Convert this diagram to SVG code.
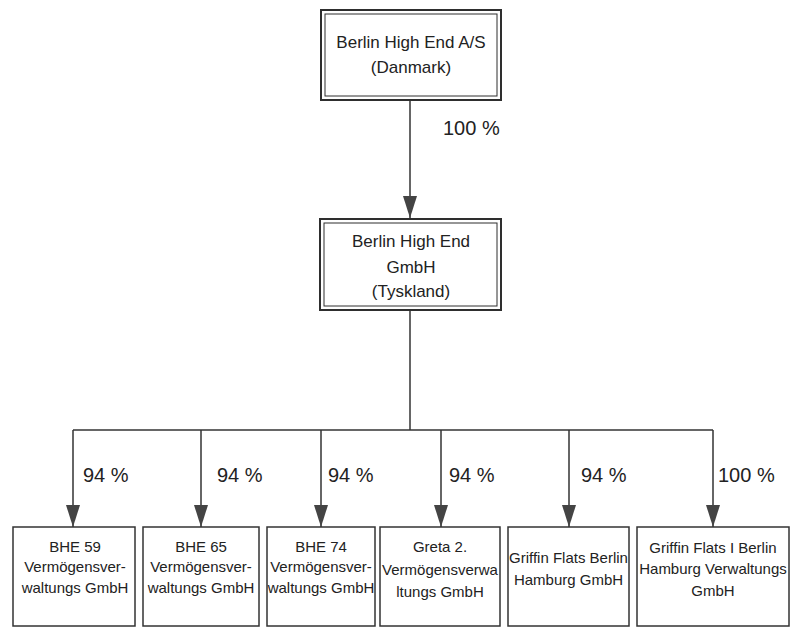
<svg xmlns="http://www.w3.org/2000/svg" width="792" height="628" viewBox="0 0 792 628">
<style>
  .bg { fill: #ffffff; }
  .outer { fill: #ffffff; stroke: #2e2e2e; stroke-width: 2; }
  .inner { fill: none; stroke: #2e2e2e; stroke-width: 1; }
  .box { fill: #ffffff; stroke: #333333; stroke-width: 1.5; }
  .conn { fill: none; stroke: #333333; stroke-width: 1.5; }
  .t { font-family: "Liberation Sans", Arial, sans-serif; fill: #222222; text-anchor: middle; }
  .big { font-size: 17px; }
  .small { font-size: 15px; }
  .pct { font-family: "Liberation Sans", Arial, sans-serif; fill: #222222; font-size: 20px; }
</style>
<defs>
  <marker id="arrow" viewBox="0 0 22 14" refX="22" refY="7" markerWidth="22" markerHeight="14" markerUnits="userSpaceOnUse" orient="auto">
    <path d="M0,0 L22,7 L0,14 z" fill="#444444"/>
  </marker>
</defs>
<rect class="bg" x="0" y="0" width="792" height="628"/>

<g id="connectors">
  <line class="conn" x1="410" y1="100" x2="410" y2="218" marker-end="url(#arrow)"/>
  <line class="conn" x1="410" y1="310" x2="410" y2="430"/>
  <line class="conn" x1="73" y1="430" x2="713" y2="430"/>
  <line class="conn" x1="73" y1="430" x2="73" y2="527" marker-end="url(#arrow)"/>
  <line class="conn" x1="201" y1="430" x2="201" y2="527" marker-end="url(#arrow)"/>
  <line class="conn" x1="321" y1="430" x2="321" y2="527" marker-end="url(#arrow)"/>
  <line class="conn" x1="441" y1="430" x2="441" y2="527" marker-end="url(#arrow)"/>
  <line class="conn" x1="569" y1="430" x2="569" y2="527" marker-end="url(#arrow)"/>
  <line class="conn" x1="713" y1="430" x2="713" y2="527" marker-end="url(#arrow)"/>
  <text class="pct" x="443" y="135">100 %</text>
  <text class="pct" x="83" y="482">94 %</text>
  <text class="pct" x="217" y="482">94 %</text>
  <text class="pct" x="328" y="482">94 %</text>
  <text class="pct" x="449" y="482">94 %</text>
  <text class="pct" x="581" y="482">94 %</text>
  <text class="pct" x="718" y="482">100 %</text>
</g>

<g id="node-top">
  <rect class="outer" x="321" y="10" width="180" height="90"/>
  <rect class="inner" x="325" y="14" width="172" height="82"/>
  <text class="t big" x="411" y="48">Berlin High End A/S</text>
  <text class="t big" x="411" y="73">(Danmark)</text>
</g>

<g id="node-mid">
  <rect class="outer" x="320" y="219" width="181" height="91"/>
  <rect class="inner" x="324" y="223" width="173" height="83"/>
  <text class="t big" x="411" y="247">Berlin High End</text>
  <text class="t big" x="411" y="273">GmbH</text>
  <text class="t big" x="411" y="297">(Tyskland)</text>
</g>

<g id="node-bhe59">
  <rect class="box" x="13" y="527" width="122" height="99"/>
  <text class="t small" x="75" y="552">BHE 59</text>
  <text class="t small" x="75" y="572">Vermögensver-</text>
  <text class="t small" x="75" y="593">waltungs GmbH</text>
</g>

<g id="node-bhe65">
  <rect class="box" x="143" y="527" width="116" height="99"/>
  <text class="t small" x="201" y="552">BHE 65</text>
  <text class="t small" x="201" y="572">Vermögensver-</text>
  <text class="t small" x="201" y="593">waltungs GmbH</text>
</g>

<g id="node-bhe74">
  <rect class="box" x="267" y="527" width="108" height="99"/>
  <text class="t small" x="321" y="552">BHE 74</text>
  <text class="t small" x="321" y="572">Vermögensver-</text>
  <text class="t small" x="321" y="593">waltungs GmbH</text>
</g>

<g id="node-greta">
  <rect class="box" x="380" y="527" width="120" height="99"/>
  <text class="t small" x="440" y="552">Greta 2.</text>
  <text class="t small" x="440" y="575">Vermögensverwa</text>
  <text class="t small" x="440" y="597">ltungs GmbH</text>
</g>

<g id="node-griffin">
  <rect class="box" x="508" y="527" width="121" height="99"/>
  <text class="t small" x="568.5" y="563">Griffin Flats Berlin</text>
  <text class="t small" x="568.5" y="585">Hamburg GmbH</text>
</g>

<g id="node-griffin-verw">
  <rect class="box" x="637" y="527" width="152" height="99"/>
  <text class="t small" x="713" y="553">Griffin Flats I Berlin</text>
  <text class="t small" x="713" y="574">Hamburg Verwaltungs</text>
  <text class="t small" x="713" y="596">GmbH</text>
</g>
</svg>
